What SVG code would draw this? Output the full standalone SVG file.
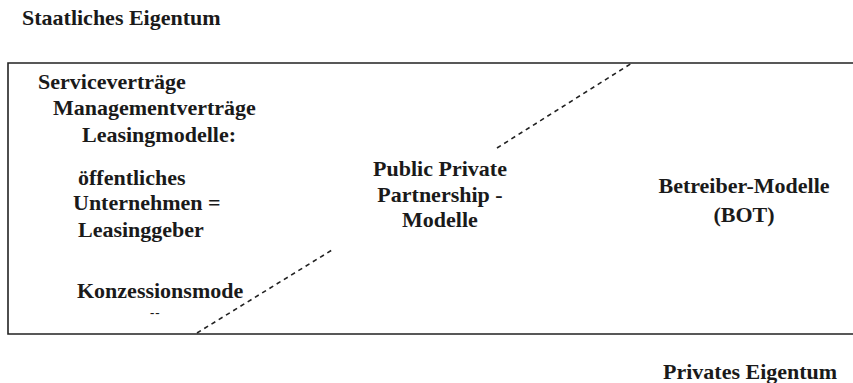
<svg xmlns="http://www.w3.org/2000/svg" width="853" height="383" viewBox="0 0 853 383">
<style>
text{font-family:"Liberation Serif","Times New Roman",serif;font-weight:bold;font-size:22px;fill:#1a1a1a}
.frame{fill:none;stroke:#222;stroke-width:1.6}
.dash{fill:none;stroke:#222;stroke-width:1.6;stroke-dasharray:4.5 4}
</style>
<rect width="853" height="383" fill="#fff"/>
<g id="frame">
<path class="frame" d="M853,63 H8 V334 H853"/>
</g>
<g id="connectors">
<line class="dash" x1="197" y1="333" x2="332" y2="250"/>
<line class="dash" x1="497" y1="148" x2="632" y2="63"/>
</g>
<g id="staatlich"><text x="22" y="25">Staatliches Eigentum</text></g>
<g id="service"><text x="38" y="89">Serviceverträge</text></g>
<g id="management"><text x="53" y="115">Managementverträge</text></g>
<g id="leasing">
<text x="82" y="142">Leasingmodelle:</text>
<text x="78" y="185">öffentliches</text>
<text x="73" y="210">Unternehmen =</text>
<text x="78" y="237">Leasinggeber</text>
</g>
<g id="konzession">
<text x="77" y="298">Konzessionsmode</text>
<text x="150" y="317" style="font-size:13px;letter-spacing:1px">--</text>
</g>
<g id="ppp">
<text x="440" y="176" text-anchor="middle">Public Private</text>
<text x="440" y="202" text-anchor="middle">Partnership -</text>
<text x="440" y="227" text-anchor="middle">Modelle</text>
</g>
<g id="bot">
<text x="744" y="193" text-anchor="middle">Betreiber-Modelle</text>
<text x="744" y="222" text-anchor="middle">(BOT)</text>
</g>
<g id="privat"><text x="663" y="379">Privates Eigentum</text></g>
</svg>
